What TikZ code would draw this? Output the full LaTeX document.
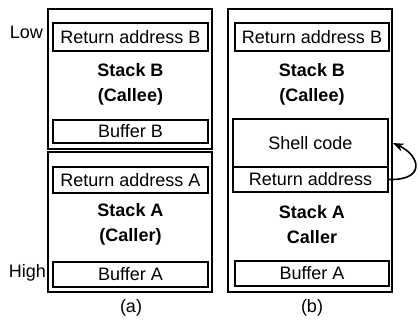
\documentclass[tikz,border=0pt]{standalone}
\usepackage{fontspec}
\setmainfont{Liberation Sans}
\usetikzlibrary{arrows.meta}
\begin{document}
\begin{tikzpicture}[x=1pt,y=1pt,
  outerbox/.style={draw, line width=2.6pt, inner sep=0pt},
  cellbox/.style={draw, line width=1.5pt, inner sep=0pt, font=\fontsize{18}{20}\selectfont},
  lbl/.style={inner sep=0pt, font=\fontsize{18}{20}\selectfont},
  bold/.style={inner sep=0pt, align=center, font=\fontsize{18}{25}\selectfont\bfseries},
  >={Stealth[length=11pt,width=8pt]}]
\useasboundingbox (0,0) rectangle (420,-325);
% ---------- panel (a)
\node[outerbox, minimum width=164pt, minimum height=140pt] (aB) at (130,-79) {};
\node[outerbox, minimum width=164pt, minimum height=140pt] (aA) at (130,-222) {};
\node[cellbox, minimum width=155pt, minimum height=28pt] (aRB) at (130.5,-37) {Return address B};
\node[bold] (aSB) at (130.5,-84.5) {Stack B\\(Callee)};
\node[cellbox, minimum width=155pt, minimum height=23pt] (aBB) at (130.5,-131.5) {Buffer B};
\node[cellbox, minimum width=155pt, minimum height=26pt] (aRA) at (130.5,-180) {Return address A};
\node[bold] (aSA) at (130.5,-224.5) {Stack A\\(Caller)};
\node[cellbox, minimum width=155pt, minimum height=25pt] (aBA) at (130.5,-274.5) {Buffer A};
\node[lbl, anchor=east] (low) at (43,-32) {Low};
\node[lbl, anchor=east] (high) at (46,-273) {High};
\node[lbl] (capa) at (131,-308) {(a)};
% ---------- panel (b)
\node[outerbox, minimum width=164pt, minimum height=283pt] (bO) at (310,-150.5) {};
\node[cellbox, minimum width=154pt, minimum height=28pt] (bRB) at (312,-37) {Return address B};
\node[bold] (bSB) at (312,-84.5) {Stack B\\(Callee)};
\node[cellbox, minimum width=155pt, minimum height=48pt] (bSh) at (310.5,-143) {Shell code};
\node[cellbox, minimum width=155pt, minimum height=25pt] (bRA) at (310.5,-179.5) {Return address};
\node[bold] (bSA) at (312,-224.5) {Stack A\\Caller};
\node[cellbox, minimum width=154pt, minimum height=25pt] (bBA) at (312,-273.5) {Buffer A};
\node[lbl] (capb) at (312,-308) {(b)};
\draw[line width=1.6pt, ->] (bRA.east) .. controls +(38,-1) and +(27,-12) .. ([xshift=4pt]bSh.east);
\end{tikzpicture}
\end{document}
